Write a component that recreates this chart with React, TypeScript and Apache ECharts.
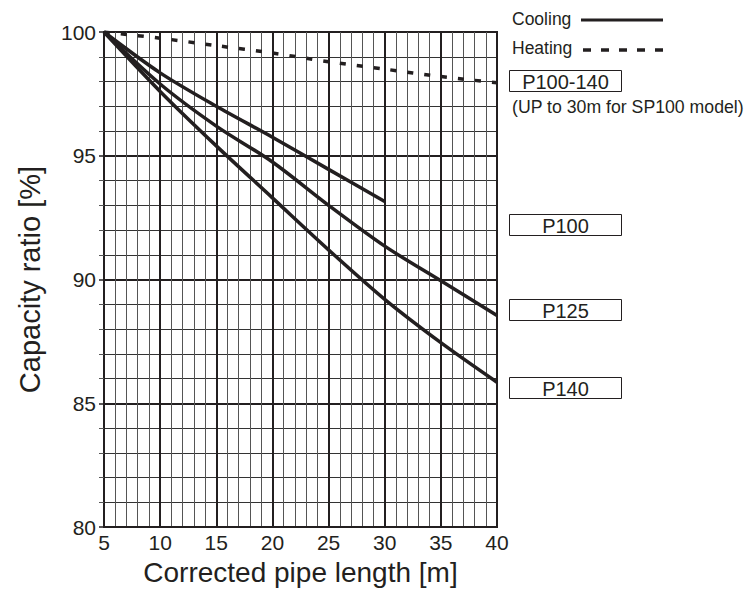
import React, { useEffect, useRef } from "react";
import * as echarts from "echarts";

const lengths = [5, 10, 15, 20, 25, 30, 35, 40];
const heating = [100, 99.75, 99.45, 99.15, 98.8, 98.5, 98.2, 97.95];
const coolingP100 = [100, 98.35, 97.0, 95.75, 94.45, 93.15];
const coolingP125 = [100, 97.9, 96.2, 94.75, 93.0, 91.35, 89.95, 88.55];
const coolingP140 = [100, 97.6, 95.4, 93.3, 91.2, 89.2, 87.45, 85.85];
const xTicks = [5, 10, 15, 20, 25, 30, 35, 40];
const yTicks = [80, 85, 90, 95, 100];
const boxLabels = ["P100-140", "P100", "P125", "P140"];
const noteText = "(UP to 30m for SP100 model)";
const legendLabels = ["Cooling", "Heating"];

const FONT = '"Liberation Sans", Arial, sans-serif';
const INK = "#231f20";

function pairs(vals: number[]) {
  return vals.map((v, i) => [lengths[i], v]);
}

export default function App() {
  const ref = useRef<HTMLDivElement>(null);
  useEffect(() => {
    if (!ref.current) return;
    const chart = echarts.init(ref.current, null, { renderer: "svg" });
    const boxYs = [70, 214, 299, 377];
    const graphic: any[] = [];
    boxLabels.forEach((lbl, i) => {
      graphic.push({
        type: "rect",
        shape: { x: 509.5, y: boxYs[i] + 0.5, width: 112, height: 21 },
        style: { fill: "#fff", stroke: INK, lineWidth: 1 },
      });
      graphic.push({
        type: "text",
        x: 565.5,
        y: boxYs[i] + 12,
        style: {
          text: lbl,
          font: `20px ${FONT}`,
          fill: INK,
          align: "center",
          verticalAlign: "middle",
        },
      });
    });
    graphic.push({
      type: "text",
      x: 512,
      y: 107,
      style: { text: noteText, font: `17.7px ${FONT}`, fill: INK, align: "left", verticalAlign: "middle" },
    });
    graphic.push({
      type: "text",
      x: 512,
      y: 19,
      style: { text: legendLabels[0], font: `17.5px ${FONT}`, fill: INK, align: "left", verticalAlign: "middle" },
    });
    graphic.push({
      type: "line",
      shape: { x1: 581, y1: 20, x2: 663, y2: 20 },
      style: { stroke: INK, lineWidth: 3 },
    });
    graphic.push({
      type: "text",
      x: 512,
      y: 48,
      style: { text: legendLabels[1], font: `17.5px ${FONT}`, fill: INK, align: "left", verticalAlign: "middle" },
    });
    graphic.push({
      type: "line",
      shape: { x1: 583, y1: 50, x2: 663, y2: 50 },
      style: { stroke: INK, lineWidth: 3.5, lineDash: [8, 10] },
    });

    const lineStyle = { color: INK, width: 3.5 };
    chart.setOption({
      animation: false,
      grid: {
        left: 104,
        right: 749 - 497,
        top: 32,
        bottom: 591 - 529,
        show: true,
        borderColor: INK,
        borderWidth: 2,
        backgroundColor: "transparent",
      },
      xAxis: {
        type: "value",
        min: xTicks[0],
        max: xTicks[xTicks.length - 1],
        interval: 5,
        name: "Corrected pipe length [m]",
        nameLocation: "middle",
        nameGap: 25,
        nameTextStyle: { fontSize: 28, color: INK, fontFamily: FONT },
        axisLine: { show: true, lineStyle: { color: INK, width: 2 } },
        axisTick: { show: false },
        minorTick: { show: false, splitNumber: 5 },
        axisLabel: { fontSize: 21, color: INK, fontFamily: FONT, margin: 5 },
        splitLine: { show: true, lineStyle: { color: INK, width: 2 } },
        minorSplitLine: { show: true, lineStyle: { color: "#555", width: 1 } },
      },
      yAxis: {
        type: "value",
        min: yTicks[0],
        max: yTicks[yTicks.length - 1],
        interval: 5,
        name: "Capacity ratio [%]",
        nameLocation: "middle",
        nameRotate: 90,
        nameGap: 60,
        nameTextStyle: { fontSize: 29, color: INK, fontFamily: FONT },
        axisLine: { show: true, lineStyle: { color: INK, width: 2 } },
        axisTick: { show: true, inside: false, length: 5, lineStyle: { color: INK, width: 1.5 } },
        minorTick: { show: true, splitNumber: 5, length: 5, lineStyle: { color: "#555", width: 1 } },
        axisLabel: { fontSize: 21, color: INK, fontFamily: FONT, margin: 8 },
        splitLine: { show: true, lineStyle: { color: INK, width: 2 } },
        minorSplitLine: { show: true, lineStyle: { color: "#333", width: 1 } },
      },
      series: [
        {
          name: "Heating",
          type: "line",
          data: pairs(heating),
          symbol: "none",
          smooth: 0.3,
          lineStyle: { color: INK, width: 3.5, type: [6, 11] },
          z: 5,
        },
        {
          name: "P100",
          type: "line",
          data: pairs(coolingP100),
          symbol: "none",
          smooth: 0.3,
          lineStyle,
          z: 5,
        },
        {
          name: "P125",
          type: "line",
          data: pairs(coolingP125),
          symbol: "none",
          smooth: 0.3,
          lineStyle,
          z: 5,
        },
        {
          name: "P140",
          type: "line",
          data: pairs(coolingP140),
          symbol: "none",
          smooth: 0.3,
          lineStyle,
          z: 5,
        },
      ],
      graphic,
    });
    return () => chart.dispose();
  }, []);
  return (
    <div
      ref={ref}
      style={{ position: "fixed", left: 0, top: 0, width: 749, height: 591, background: "#fff" }}
    />
  );
}
